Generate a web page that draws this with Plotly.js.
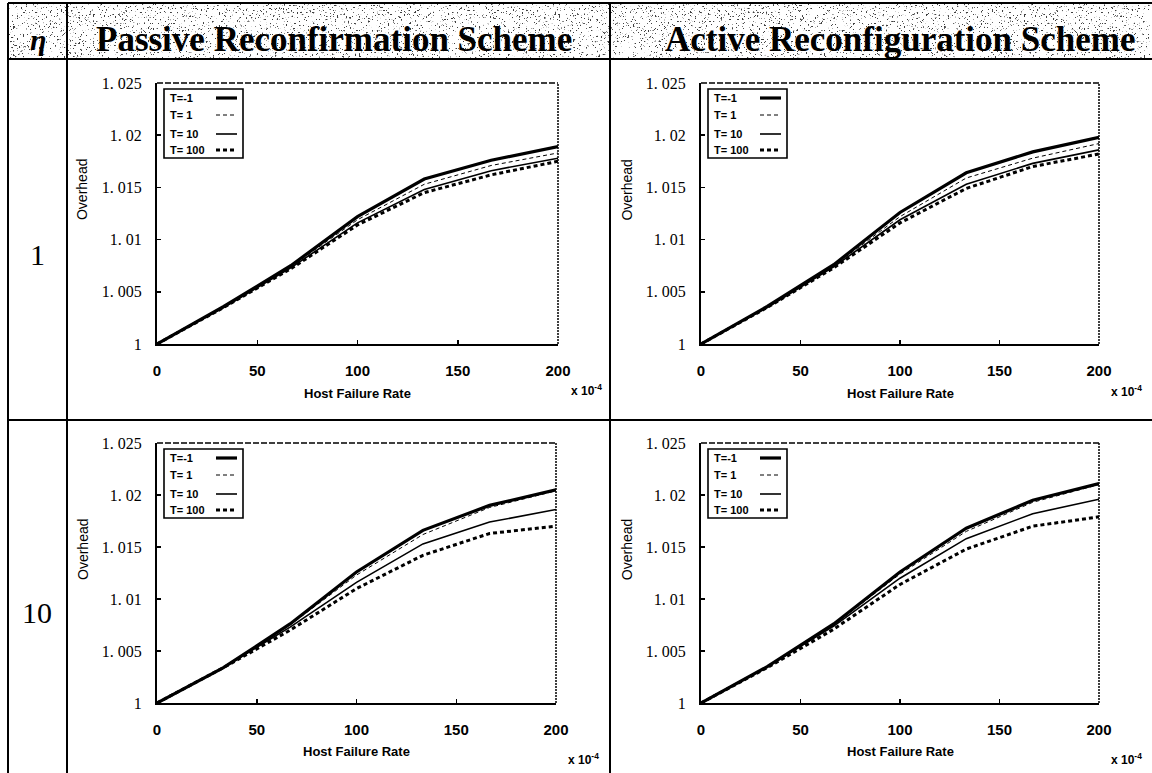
<!DOCTYPE html>
<html>
<head>
<meta charset="utf-8">
<script src="https://cdn.plot.ly/plotly-3.0.1.min.js"></script>
<style>
  html, body { margin: 0; padding: 0; background: #fff; }
  #chart { width: 1152px; height: 773px; }
</style>
</head>
<body>
<div id="chart"></div>
<script>
// Host failure rate (x 10^-4) at which the overhead was evaluated
const hostFailureRate = [0, 33.3, 66.7, 100, 133.3, 166.7, 200];

// Series labels (values of T)
const seriesNames = ['T=-1', 'T= 1', 'T= 10', 'T= 100'];

// Overhead, one row per T value, in the order of seriesNames
const passiveEta1 = [
  [1.0000, 1.0036, 1.0075, 1.0122, 1.0158, 1.0176, 1.0189],
  [1.0000, 1.0036, 1.0074, 1.0119, 1.0153, 1.0171, 1.0183],
  [1.0000, 1.0035, 1.0073, 1.0116, 1.0148, 1.0166, 1.0178],
  [1.0000, 1.0035, 1.0072, 1.0114, 1.0145, 1.0162, 1.0175]
];
const activeEta1 = [
  [1.0000, 1.0036, 1.0076, 1.0126, 1.0164, 1.0184, 1.0198],
  [1.0000, 1.0036, 1.0075, 1.0122, 1.0159, 1.0178, 1.0192],
  [1.0000, 1.0035, 1.0074, 1.0119, 1.0153, 1.0173, 1.0186],
  [1.0000, 1.0035, 1.0073, 1.0116, 1.0149, 1.0170, 1.0182]
];
const passiveEta10 = [
  [1.0000, 1.0034, 1.0076, 1.0126, 1.0166, 1.0190, 1.0205],
  [1.0000, 1.0034, 1.0075, 1.0123, 1.0162, 1.0188, 1.0204],
  [1.0000, 1.0034, 1.0073, 1.0116, 1.0153, 1.0174, 1.0186],
  [1.0000, 1.0034, 1.0070, 1.0110, 1.0142, 1.0163, 1.0170]
];
const activeEta10 = [
  [1.0000, 1.0035, 1.0076, 1.0126, 1.0168, 1.0195, 1.0211],
  [1.0000, 1.0035, 1.0075, 1.0124, 1.0165, 1.0193, 1.0210],
  [1.0000, 1.0035, 1.0074, 1.0120, 1.0158, 1.0182, 1.0196],
  [1.0000, 1.0034, 1.0071, 1.0114, 1.0148, 1.0170, 1.0179]
];

// Axis ticks
const xTickVals = [0, 50, 100, 150, 200];
const xTickText = ['0', '50', '100', '150', '200'];
const yTickVals = [1, 1.005, 1.01, 1.015, 1.02, 1.025];
const yTickText = ['1', '1. 005', '1. 01', '1. 015', '1. 02', '1. 025'];

// Table headings
const schemeTitles = ['Passive Reconfirmation Scheme', 'Active Reconfiguration Scheme'];
const etaLabels = ['1', '10'];

// ---- styling ----
const W = 1152, H = 773;
const px = v => v / W;
const py = v => 1 - v / H;

const lineWidths = [3.2, 1, 1.6, 3];
const lineDashes = ['solid', '4px,3px', 'solid', '4px,3px'];

// panel boxes in page pixels: [left, right, top, bottom], plus caption offset
const panels = [
  { data: passiveEta1,  sfx: '',  box: [157, 558, 83, 344],  expY: -0.176 },
  { data: activeEta1,   sfx: '2', box: [701, 1099, 83, 344], expY: -0.18 },
  { data: passiveEta10, sfx: '3', box: [157, 556, 443, 703], expY: -0.215 },
  { data: activeEta10,  sfx: '4', box: [701, 1099, 443, 703], expY: -0.215 }
];

const traces = [];
const shapes = [];
const annotations = [];
const layout = {
  width: W, height: H,
  margin: { l: 0, r: 0, t: 0, b: 0 },
  paper_bgcolor: '#ffffff',
  plot_bgcolor: '#ffffff',
  showlegend: false,
  font: { family: 'Liberation Sans', color: '#000' }
};

panels.forEach(p => {
  const xa = 'x' + p.sfx, ya = 'y' + p.sfx;
  const [l, r, t, b] = p.box;

  p.data.forEach((vals, i) => {
    traces.push({
      x: hostFailureRate, y: vals, xaxis: xa, yaxis: ya,
      type: 'scatter', mode: 'lines', name: seriesNames[i],
      line: { color: '#000', width: lineWidths[i], dash: lineDashes[i] },
      hoverinfo: 'skip'
    });
  });

  layout['xaxis' + p.sfx] = {
    domain: [px(l), px(r)], anchor: ya, range: [0, 200],
    tickvals: xTickVals, ticktext: xTickText,
    showline: true, linewidth: 2, linecolor: '#000',
    ticks: 'inside', ticklen: 4, tickwidth: 1.5, tickcolor: '#000',
    showgrid: false, zeroline: false, ticklabelstandoff: 12,
    tickfont: { family: 'Liberation Sans', size: 15, weight: 'bold', color: '#000' }
  };
  layout['yaxis' + p.sfx] = {
    domain: [py(b), py(t)], anchor: xa, range: [1, 1.025],
    tickvals: yTickVals, ticktext: yTickText,
    showline: true, linewidth: 2, linecolor: '#000',
    ticks: 'inside', ticklen: 4, tickwidth: 1.5, tickcolor: '#000',
    showgrid: false, zeroline: false, ticklabelstandoff: 10,
    tickfont: { family: 'Liberation Serif', size: 16, color: '#000' }
  };

  const xd = xa + ' domain', yd = ya + ' domain';
  // top (dashed) and right (dotted) frame edges
  shapes.push({ type: 'line', xref: xd, yref: yd, x0: 0, x1: 1, y0: 1, y1: 1,
    line: { color: '#000', width: 1.5, dash: '6px,2px' } });
  shapes.push({ type: 'line', xref: xd, yref: yd, x0: 1, x1: 1, y0: 0, y1: 1,
    line: { color: '#000', width: 1.5, dash: '2px,1px' } });

  // legend box with text first, line sample after
  const pw = r - l, ph = b - t;
  const lx = v => (v - l) / pw, ly = v => (b - v) / ph;
  const boxTop = t + 6, boxBot = t + 75;
  shapes.push({ type: 'rect', xref: xd, yref: yd,
    x0: lx(l + 7), x1: lx(l + 86), y0: ly(boxBot), y1: ly(boxTop),
    line: { color: '#000', width: 1.6 }, fillcolor: '#fff', layer: 'above' });
  const rowY = [t + 15, t + 32, t + 51, t + 67];
  seriesNames.forEach((name, i) => {
    annotations.push({ xref: xd, yref: yd, x: lx(l + 11), y: ly(rowY[i]),
      xanchor: 'left', yanchor: 'middle', showarrow: false, text: name,
      font: { family: 'Liberation Sans', size: 11, weight: 'bold', color: '#000' } });
    shapes.push({ type: 'line', xref: xd, yref: yd,
      x0: lx(l + 59), x1: lx(l + 80), y0: ly(rowY[i]), y1: ly(rowY[i]),
      line: { color: '#000', width: lineWidths[i], dash: lineDashes[i] }, layer: 'above' });
  });

  // axis captions
  annotations.push({ xref: xd, yref: yd, x: 0.5, y: -0.188, xanchor: 'center', yanchor: 'middle',
    showarrow: false, text: 'Host Failure Rate',
    font: { family: 'Liberation Sans', size: 13, weight: 'bold', color: '#000' } });
  annotations.push({ xref: xd, yref: yd, x: -0.187, y: 0.59, xanchor: 'center', yanchor: 'middle',
    showarrow: false, text: 'Overhead', textangle: -90,
    font: { family: 'Liberation Sans', size: 14, color: '#000' } });
  annotations.push({ xref: xd, yref: yd, x: 1.07, y: p.expY, xanchor: 'center', yanchor: 'middle',
    showarrow: false, text: 'x 10<sup>-4</sup>',
    font: { family: 'Liberation Sans', size: 12, weight: 'bold', color: '#000' } });
});

// speckled background of the heading row
const speckle =
  '<svg xmlns="http://www.w3.org/2000/svg" width="1142" height="56" viewBox="0 0 1142 56">' +
  '<filter id="n" x="0" y="0" width="100%" height="100%">' +
  '<feTurbulence type="fractalNoise" baseFrequency="0.55" numOctaves="3" seed="7"/>' +
  '<feColorMatrix type="matrix" values="0 0 0 0 0  0 0 0 0 0  0 0 0 0 0  14 0 0 0 -9.0"/>' +
  '</filter><rect width="1142" height="56" filter="url(#n)"/></svg>';
layout.images = [{
  source: 'data:image/svg+xml;charset=utf-8,' + encodeURIComponent(speckle),
  xref: 'paper', yref: 'paper', x: px(8), y: py(3), sizex: px(1142), sizey: 56 / H,
  xanchor: 'left', yanchor: 'top', sizing: 'stretch', layer: 'below', opacity: 0.75
}];

// table rules
const tableLine = { color: '#000', width: 2 };
[[8, 3, 1152, 3], [8, 59, 1152, 59], [8, 420, 1152, 420]].forEach(([x0, y0, x1, y1]) =>
  shapes.push({ type: 'line', xref: 'paper', yref: 'paper', x0: px(x0), x1: px(x1), y0: py(y0), y1: py(y1), line: tableLine }));
[[8], [67], [610]].forEach(([x]) =>
  shapes.push({ type: 'line', xref: 'paper', yref: 'paper', x0: px(x), x1: px(x), y0: py(3), y1: py(773), line: tableLine }));

// headings
annotations.push({ xref: 'paper', yref: 'paper', x: px(38), y: py(39), showarrow: false,
  text: '<i>η</i>', xanchor: 'center', yanchor: 'middle',
  font: { family: 'Liberation Serif', size: 30, weight: 'bold', color: '#000' } });
[334, 900].forEach((cx, i) => annotations.push({ xref: 'paper', yref: 'paper', x: px(cx), y: py(39),
  showarrow: false, text: schemeTitles[i], xanchor: 'center', yanchor: 'middle',
  font: { family: 'Liberation Serif', size: 35, weight: 'bold', color: '#000' } }));
[255, 612].forEach((cy, i) => annotations.push({ xref: 'paper', yref: 'paper', x: px(37), y: py(cy),
  showarrow: false, text: etaLabels[i], xanchor: 'center', yanchor: 'middle',
  font: { family: 'Liberation Serif', size: 30, color: '#000' } }));

layout.shapes = shapes;
layout.annotations = annotations;

Plotly.newPlot('chart', traces, layout, { staticPlot: true, displayModeBar: false });
</script>
</body>
</html>
